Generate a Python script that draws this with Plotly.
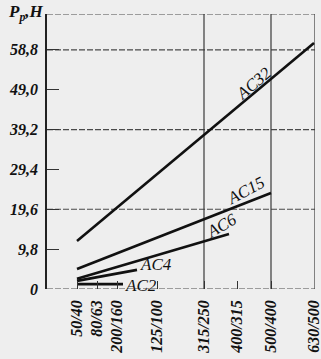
import plotly.graph_objects as go

# Category labels along x (positions follow the original non-uniform scale)
x_labels = ["50/40", "80/63", "200/160", "125/100", "315/250", "400/315", "500/400", "630/500"]
x_pos = [0, 1, 2, 4, 6.35, 8, 9.7, 11.85]

y_ticks = [0, 9.8, 19.6, 29.4, 39.2, 49.0, 58.8]
y_ticktext = ["0", "9,8", "19,6", "29,4", "39,2", "49,0", "58,8"]

# Series (start at 50/40, end where the line stops)
series_names = ["AC32", "AC15", "AC6", "AC4", "AC2"]
ac32_x = [0, 11.85]; ac32_y = [11.8, 60.5]
ac15_x = [0, 9.7];   ac15_y = [4.9, 23.6]
ac6_x = [0, 7.6];    ac6_y = [2.5, 13.5]
ac4_x = [0, 3.0];    ac4_y = [2.0, 4.7]
ac2_x = [0, 2.3];    ac2_y = [1.2, 1.2]

grid_y = [19.6, 39.2, 58.8]
grid_x = [6.35, 9.7]

X_RANGE = [-1.5, 11.9]
Y_RANGE = [0, 67.6]

serif = "Liberation Serif"
fig = go.Figure()

for xs, ys in [(ac32_x, ac32_y), (ac15_x, ac15_y), (ac6_x, ac6_y), (ac4_x, ac4_y), (ac2_x, ac2_y)]:
    fig.add_trace(go.Scatter(x=xs, y=ys, mode="lines",
                             line=dict(color="#111111", width=2.6), showlegend=False,
                             hoverinfo="skip"))

dash_h = "6px,2px"
shapes = []
for gy in grid_y + [Y_RANGE[1]]:
    shapes.append(dict(type="line", xref="x", yref="y", x0=X_RANGE[0], x1=X_RANGE[1], y0=gy, y1=gy,
                       layer="below", line=dict(color="#4a4a4a", width=1.2, dash=dash_h)))
for gx in grid_x + [X_RANGE[1]]:
    shapes.append(dict(type="line", xref="x", yref="y", x0=gx, x1=gx, y0=Y_RANGE[0], y1=Y_RANGE[1],
                       layer="below", line=dict(color="#3a3a3a", width=1.2)))
# bottom axis
shapes.append(dict(type="line", xref="x", yref="y", x0=X_RANGE[0], x1=X_RANGE[1], y0=0, y1=0,
                   layer="below", line=dict(color="#4a4a4a", width=1.2, dash=dash_h)))
fig.update_layout(shapes=shapes)

lab_font = dict(family=serif, size=17, color="#111111", style="italic")
annots = [
    dict(x=8.85, y=50.4, text="AC32", textangle=-40),
    dict(x=8.45, y=24.2, text="AC15", textangle=-28),
    dict(x=7.25, y=15.5, text="AC6", textangle=-30),
    dict(x=3.95, y=6.0, text="AC4", textangle=0),
    dict(x=3.2, y=0.9, text="AC2", textangle=0),
]
for a in annots:
    fig.add_annotation(x=a["x"], y=a["y"], xref="x", yref="y", text=a["text"],
                       textangle=a["textangle"], showarrow=False, font=lab_font)

fig.add_annotation(xref="paper", yref="paper", x=0, y=1, xanchor="right", yanchor="middle",
                   xshift=-1, yshift=1, showarrow=False,
                   text="<b><i>P<sub>p</sub>,H</i></b>",
                   font=dict(family=serif, size=17, color="#111111"))

tick_font = dict(family=serif, size=16, color="#111111", weight="bold", style="italic")
fig.update_xaxes(range=X_RANGE, tickmode="array", tickvals=x_pos, ticktext=x_labels,
                 tickangle=-90, tickfont=tick_font, ticks="inside", ticklen=8,
                 tickcolor="#333333", showgrid=False, zeroline=False, showline=False,
                 ticklabelstandoff=7, automargin=False, ticklabeloverflow="allow")
fig.update_yaxes(range=Y_RANGE, tickmode="array", tickvals=y_ticks, ticktext=y_ticktext,
                 tickfont=tick_font, ticks="inside", ticklen=12, tickcolor="#333333",
                 showgrid=False, zeroline=False, showline=True, linecolor="#222222",
                 linewidth=1.6, ticklabelstandoff=4,
                 automargin=False, ticklabeloverflow="allow")

fig.update_layout(width=321, height=359, margin=dict(l=47, r=6, t=14, b=70),
                  paper_bgcolor="#eeeeee", plot_bgcolor="#eeeeee")

fig.write_html("out.html", config={"displayModeBar": False},
               post_script="document.body.style.margin='0';document.body.style.overflow='hidden';")
